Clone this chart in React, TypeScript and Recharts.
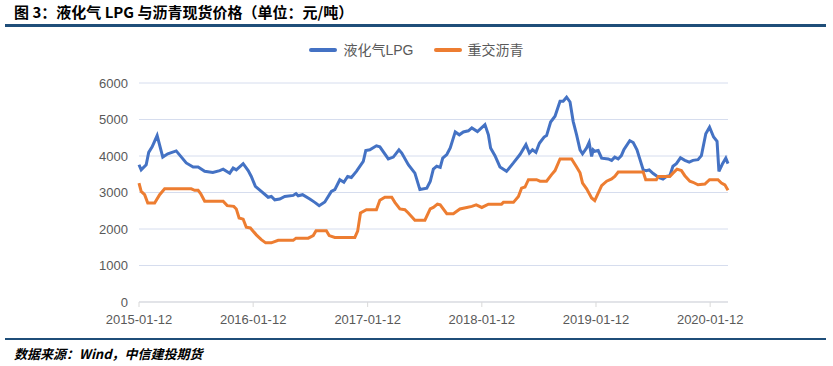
import { LineChart, Line, XAxis, YAxis, CartesianGrid } from 'recharts'

const lpgDates = [
  '2015-01-12', '2015-01-19', '2015-02-04', '2015-02-12', '2015-02-23', '2015-03-11', '2015-03-29', '2015-04-14',
  '2015-05-11', '2015-06-12', '2015-07-04', '2015-07-20', '2015-08-10', '2015-09-05', '2015-09-27', '2015-10-08',
  '2015-10-29', '2015-11-09', '2015-11-19', '2015-12-11', '2015-12-27', '2016-01-06', '2016-01-19', '2016-02-07',
  '2016-02-29', '2016-03-10', '2016-03-21', '2016-04-06', '2016-04-22', '2016-05-19', '2016-05-28', '2016-06-04',
  '2016-06-18', '2016-07-11', '2016-07-27', '2016-08-10', '2016-08-28', '2016-09-18', '2016-09-29', '2016-10-15',
  '2016-10-28', '2016-11-09', '2016-11-21', '2016-12-07', '2016-12-29', '2017-01-06', '2017-01-19', '2017-02-09',
  '2017-02-20', '2017-03-19', '2017-04-04', '2017-04-22', '2017-05-01', '2017-05-22', '2017-06-12', '2017-06-28',
  '2017-07-20', '2017-07-31', '2017-08-10', '2017-08-21', '2017-09-01', '2017-09-09', '2017-09-22', '2017-10-03',
  '2017-10-19', '2017-11-01', '2017-11-14', '2017-11-30', '2017-12-11', '2017-12-29', '2018-01-22', '2018-02-02',
  '2018-02-09', '2018-02-23', '2018-03-11', '2018-04-01', '2018-04-23', '2018-05-14', '2018-06-02', '2018-06-13',
  '2018-06-23', '2018-07-04', '2018-07-15', '2018-07-30', '2018-08-07', '2018-08-20', '2018-09-03', '2018-09-19',
  '2018-09-29', '2018-10-10', '2018-10-21', '2018-10-31', '2018-11-11', '2018-11-22', '2018-11-30', '2018-12-13',
  '2018-12-21', '2018-12-29', '2019-01-03', '2019-01-08', '2019-01-19', '2019-01-30', '2019-02-20', '2019-03-03',
  '2019-03-13', '2019-03-24', '2019-04-03', '2019-04-11', '2019-04-30', '2019-05-11', '2019-05-23', '2019-06-01',
  '2019-06-12', '2019-06-22', '2019-07-01', '2019-07-14', '2019-07-24', '2019-08-04', '2019-08-14', '2019-08-25',
  '2019-09-05', '2019-09-15', '2019-09-26', '2019-10-09', '2019-10-23', '2019-11-06', '2019-11-18', '2019-12-04',
  '2019-12-15', '2019-12-29', '2020-01-10', '2020-01-23', '2020-02-03', '2020-02-09', '2020-02-20', '2020-03-02',
  '2020-03-09',
]
const lpgValues = [
  3760, 3620, 3760, 4100, 4250, 4560, 3970, 4060,
  4140, 3810, 3700, 3700, 3580, 3550, 3600, 3640,
  3530, 3670, 3620, 3790, 3600, 3440, 3170, 3030,
  2870, 2890, 2800, 2820, 2890, 2920, 2970, 2910,
  2940, 2820, 2730, 2640, 2740, 3030, 3080, 3350,
  3280, 3440, 3410, 3580, 3850, 4150, 4170, 4280,
  4250, 3920, 3970, 4170, 4080, 3760, 3530, 3080,
  3120, 3300, 3640, 3720, 3690, 3940, 4040, 4220,
  4660, 4580, 4660, 4690, 4770, 4670, 4860, 4580,
  4220, 4010, 3700, 3580, 3810, 4040, 4310, 4080,
  4170, 4100, 4350, 4520, 4560, 4930, 5090, 5500,
  5500, 5610, 5480, 4950, 4580, 4170, 4060, 4220,
  4370, 3990, 4170, 4130, 4150, 3940, 3920, 3880,
  3970, 3920, 4010, 4170, 4420, 4370, 4170, 3920,
  3620, 3600, 3620, 3520, 3460, 3400, 3370, 3440,
  3460, 3720, 3790, 3950, 3880, 3830, 3880, 3900,
  4010, 4610, 4790, 4520, 4400, 3580, 3780, 3940,
  3790,
]

const asphaltDates = [
  '2015-01-12', '2015-01-19', '2015-01-30', '2015-02-09', '2015-03-03', '2015-03-19', '2015-04-04', '2015-06-28',
  '2015-07-09', '2015-07-20', '2015-07-28', '2015-08-10', '2015-10-08', '2015-10-21', '2015-11-11', '2015-11-19',
  '2015-11-28', '2015-12-11', '2015-12-21', '2016-01-03', '2016-01-22', '2016-02-07', '2016-02-21', '2016-03-10',
  '2016-04-01', '2016-05-19', '2016-05-28', '2016-07-06', '2016-07-22', '2016-07-31', '2016-09-02', '2016-09-11',
  '2016-09-29', '2016-12-02', '2016-12-11', '2016-12-20', '2017-01-08', '2017-02-09', '2017-02-20', '2017-03-08',
  '2017-03-30', '2017-04-09', '2017-04-25', '2017-05-11', '2017-05-22', '2017-06-12', '2017-07-14', '2017-07-31',
  '2017-08-10', '2017-08-23', '2017-09-01', '2017-09-22', '2017-10-13', '2017-11-03', '2017-11-25', '2017-12-11',
  '2017-12-25', '2018-01-12', '2018-02-02', '2018-03-16', '2018-03-22', '2018-04-23', '2018-05-09', '2018-05-19',
  '2018-05-30', '2018-06-10', '2018-07-06', '2018-07-17', '2018-08-07', '2018-08-23', '2018-09-03', '2018-09-19',
  '2018-10-26', '2018-11-11', '2018-11-22', '2018-11-30', '2018-12-13', '2018-12-29', '2019-01-08', '2019-01-19',
  '2019-01-30', '2019-02-15', '2019-03-03', '2019-03-13', '2019-03-24', '2019-06-12', '2019-06-20', '2019-07-24',
  '2019-07-30', '2019-09-05', '2019-09-15', '2019-09-28', '2019-10-12', '2019-10-23', '2019-11-08', '2019-11-18',
  '2019-12-04', '2019-12-26', '2020-01-10', '2020-02-06', '2020-02-17', '2020-02-28', '2020-03-09',
]
const asphaltValues = [
  3260, 3030, 2940, 2710, 2710, 2940, 3100, 3100,
  3060, 3060, 2970, 2760, 2760, 2640, 2620, 2550,
  2300, 2270, 2050, 2030, 1840, 1710, 1620, 1620,
  1690, 1690, 1750, 1750, 1820, 1950, 1950, 1820,
  1770, 1770, 1940, 2440, 2530, 2530, 2790, 2870,
  2870, 2730, 2550, 2530, 2440, 2240, 2240, 2550,
  2590, 2680, 2660, 2420, 2420, 2550, 2590, 2620,
  2660, 2590, 2680, 2680, 2730, 2730, 2890, 3120,
  3150, 3350, 3350, 3310, 3310, 3490, 3600, 3920,
  3920, 3700, 3540, 3260, 3100, 2850, 2780, 2980,
  3190, 3310, 3370, 3440, 3560, 3560, 3350, 3350,
  3440, 3440, 3530, 3640, 3600, 3460, 3310, 3280,
  3210, 3230, 3350, 3350, 3260, 3210, 3060,
]

const xTickDates = ['2015-01-12', '2016-01-12', '2017-01-12', '2018-01-12', '2019-01-12', '2020-01-12']
const yTicks = [0, 1000, 2000, 3000, 4000, 5000, 6000]

const toTime = (s: string) => {
  const [y, m, d] = s.split('-').map(Number)
  return Date.UTC(y, m - 1, d)
}
const fmtDate = (t: number) => {
  const d = new Date(t)
  const p = (n: number) => String(n).padStart(2, '0')
  return `${d.getUTCFullYear()}-${p(d.getUTCMonth() + 1)}-${p(d.getUTCDate())}`
}

const lpgData = lpgDates.map((d, i) => ({ t: toTime(d), v: lpgValues[i] }))
const asphaltData = asphaltDates.map((d, i) => ({ t: toTime(d), v: asphaltValues[i] }))

const BLUE = '#4472C4'
const ORANGE = '#ED7D31'
const RULE = '#1F4E79'
const cjk = '"Liberation Sans", "Noto Sans CJK SC", sans-serif'

const legendItems = [
  { name: '液化气LPG', color: BLUE },
  { name: '重交沥青', color: ORANGE },
]

export default function App() {
  return (
    <div style={{ position: 'absolute', left: 0, top: 0, width: 833, height: 366, background: '#fff', overflow: 'hidden' }}>
      <div style={{ position: 'absolute', left: 14, top: 3, fontFamily: '"Noto Sans CJK SC", sans-serif', fontWeight: 700, fontSize: 15, lineHeight: '17px', color: '#000', whiteSpace: 'nowrap' }}>
        图 3：液化气 LPG 与沥青现货价格（单位：元/吨）
      </div>
      <div style={{ position: 'absolute', left: 5, top: 24, width: 821, height: 3, background: RULE }} />
      <div style={{ position: 'absolute', left: 0, top: 41, width: 833, display: 'flex', justifyContent: 'center', alignItems: 'center', fontFamily: cjk, fontSize: 14, lineHeight: '18px', color: '#595959' }}>
        {legendItems.map((it, i) => (
          <div key={it.name} style={{ display: 'flex', alignItems: 'center', marginLeft: i ? 20 : 0 }}>
            <span style={{ display: 'inline-block', width: 28, height: 4, borderRadius: 2, background: it.color, marginRight: 6 }} />
            <span>{it.name}</span>
          </div>
        ))}
      </div>
      <div style={{ position: 'absolute', left: 0, top: 0, width: 745, height: 334, overflow: 'hidden' }}>
        <LineChart width={800} height={334} margin={{ top: 83, right: 72, bottom: 2, left: 0 }}>
          <CartesianGrid vertical={false} stroke="#D6DDEE" strokeWidth={1} />
          <XAxis
            dataKey="t"
            type="number"
            domain={[toTime('2015-01-12'), toTime('2020-03-09')]}
            ticks={xTickDates.map(toTime)}
            tickFormatter={fmtDate}
            allowDuplicatedCategory={false}
            height={30}
            tickSize={5}
            tickMargin={8}
            axisLine={{ stroke: '#D9D9D9' }}
            tickLine={{ stroke: '#D9D9D9' }}
            tick={{ fontSize: 13, fill: '#595959', fontFamily: cjk }}
            interval={0}
          />
          <YAxis
            domain={[0, 6000]}
            ticks={yTicks}
            width={139}
            axisLine={false}
            tickLine={false}
            tickMargin={5}
            tick={{ fontSize: 13, fill: '#595959', fontFamily: cjk }}
          />
          <Line data={lpgData} dataKey="v" name="液化气LPG" type="linear" stroke={BLUE} strokeWidth={3} dot={false} isAnimationActive={false} />
          <Line data={asphaltData} dataKey="v" name="重交沥青" type="linear" stroke={ORANGE} strokeWidth={3} dot={false} isAnimationActive={false} />
        </LineChart>
      </div>
      <div style={{ position: 'absolute', left: 5, top: 338, width: 821, height: 2, background: RULE }} />
      <div style={{ position: 'absolute', left: 14, top: 346, fontFamily: '"Noto Sans CJK SC", sans-serif', fontWeight: 700, fontStyle: 'italic', fontSize: 13, lineHeight: '15px', color: '#000', whiteSpace: 'nowrap' }}>
        数据来源：Wind，中信建投期货
      </div>
    </div>
  )
}
